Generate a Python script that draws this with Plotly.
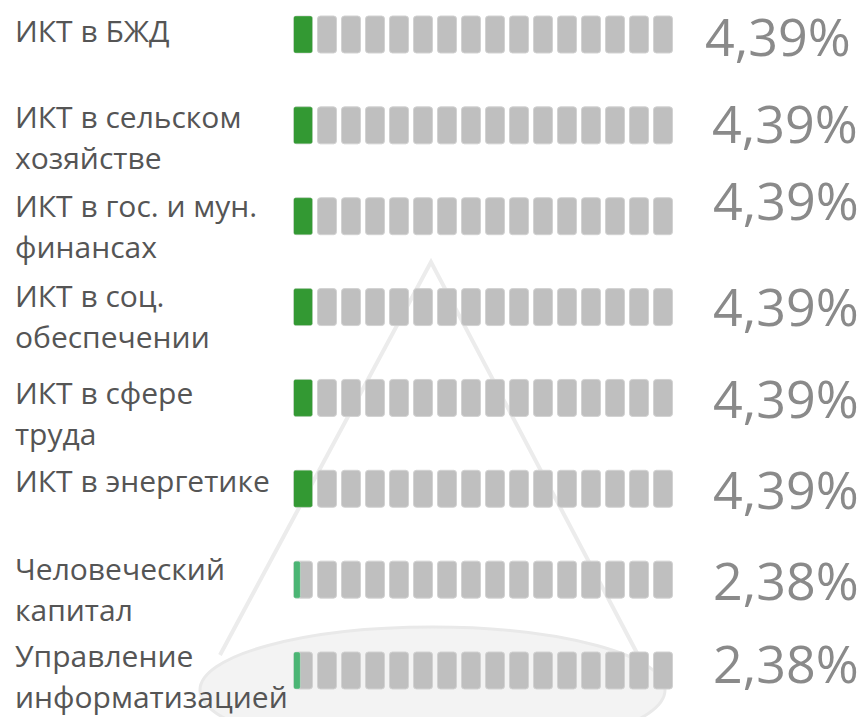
import plotly.graph_objects as go

# ---------------- data ----------------
categories = [
    "ИКТ в БЖД",
    "ИКТ в сельском<br>хозяйстве",
    "ИКТ в гос. и мун.<br>финансах",
    "ИКТ в соц.<br>обеспечении",
    "ИКТ в сфере<br>труда",
    "ИКТ в энергетике",
    "Человеческий<br>капитал",
    "Управление<br>информатизацией",
]
values = [4.39, 4.39, 4.39, 4.39, 4.39, 4.39, 2.38, 2.38]
value_labels = ["4,39%", "4,39%", "4,39%", "4,39%", "4,39%", "4,39%", "2,38%", "2,38%"]
# filled part of the first block (in blocks)
filled_blocks = [1.0, 1.0, 1.0, 1.0, 1.0, 1.0, 0.36, 0.36]
total_blocks = 16

# ---------------- styles ----------------
WIN_W, WIN_H = 867, 717
OX, OY = 8, 8                      # default page body margin
FW, FH = WIN_W - OX, WIN_H - OY    # figure size
GRAY = "#bfbfbf"
DARK_GREEN = "#339933"
LIGHT_GREEN = "#4bb574"
fill_colors = [DARK_GREEN] * 6 + [LIGHT_GREEN] * 2
BLOCK_W = 19 / 24
BAR_H = 0.407
LABEL_FONT = dict(family="Open Sans", size=30, color="#555555")
PCT_FONT = dict(family="Open Sans", size=52, color="#8a8a8a")
pct_yshift = [-1, 3, 17, 2, 0, 0, 0, 8]
pct_right = [853, 860, 861, 861, 861, 861, 861, 861]
label_yshift = [4, 9, 11, 12, 5, 8, 11, 15]
LINE_H = 41


def fx(x):
    return (x - OX) / FW


def fy(y):
    return 1 - (y - OY) / FH


n = len(categories)
rows = list(range(n))

fig = go.Figure()

# gray blocks
gx, gy, gb = [], [], []
for r in rows:
    for k in range(total_blocks):
        gy.append(r)
        gb.append(k)
        gx.append(BLOCK_W)
fig.add_trace(go.Bar(
    orientation="h", y=gy, x=gx, base=gb, width=BAR_H,
    marker=dict(color=GRAY, line=dict(color="#d2d2d2", width=1), cornerradius=3),
    hoverinfo="skip", showlegend=False,
))

# green (filled) part
fig.add_trace(go.Bar(
    orientation="h", y=rows, x=[f * BLOCK_W for f in filled_blocks], base=[0] * n,
    width=BAR_H,
    marker=dict(color=fill_colors, line=dict(color="rgba(255,255,255,0.3)", width=1), cornerradius=2),
    customdata=values, hovertemplate="%{customdata}%<extra></extra>", showlegend=False,
))

annotations = []
for r, cat in enumerate(categories):
    lines = cat.split("<br>")
    for li, line in enumerate(lines):
        annotations.append(dict(
            xref="paper", yref="y", x=fx(13), y=r, xanchor="left", yanchor="middle",
            text=line, showarrow=False, font=LABEL_FONT,
            yshift=label_yshift[r] - li * LINE_H,
        ))
    annotations.append(dict(
        xref="paper", yref="y", x=fx(pct_right[r]), y=r, xanchor="right", yanchor="middle",
        text=value_labels[r], showarrow=False, font=PCT_FONT, yshift=pct_yshift[r],
    ))

shapes = [
    dict(type="circle", xref="paper", yref="paper", layer="below",
         x0=fx(200), x1=fx(665), y0=fy(627), y1=fy(753),
         fillcolor="#f3f3f3", line=dict(color="#e9e9e9", width=3)),
    dict(type="path", xref="paper", yref="paper", layer="below",
         path=f"M {fx(220)},{fy(655)} L {fx(431)},{fy(262)} L {fx(638)},{fy(655)}",
         line=dict(color="#ececec", width=4)),
]

# y axis: row 0 centred at 34.5 px, row 7 at 670.5 px (window pixels)
s = (670.5 - 34.5) / 7
top = -(34.5 - OY) / s
bottom = top + FH / s

fig.update_layout(
    width=FW, height=FH,
    margin=dict(l=0, r=0, t=0, b=0),
    paper_bgcolor="white", plot_bgcolor="rgba(0,0,0,0)",
    barmode="overlay",
    xaxis=dict(range=[0, total_blocks], domain=[fx(293.5), fx(293.5 + 24 * 16)],
               visible=False, fixedrange=True),
    yaxis=dict(range=[bottom, top], domain=[0, 1], visible=False, fixedrange=True),
    annotations=annotations,
    shapes=shapes,
    showlegend=False,
)

fig.write_html("out.html")
